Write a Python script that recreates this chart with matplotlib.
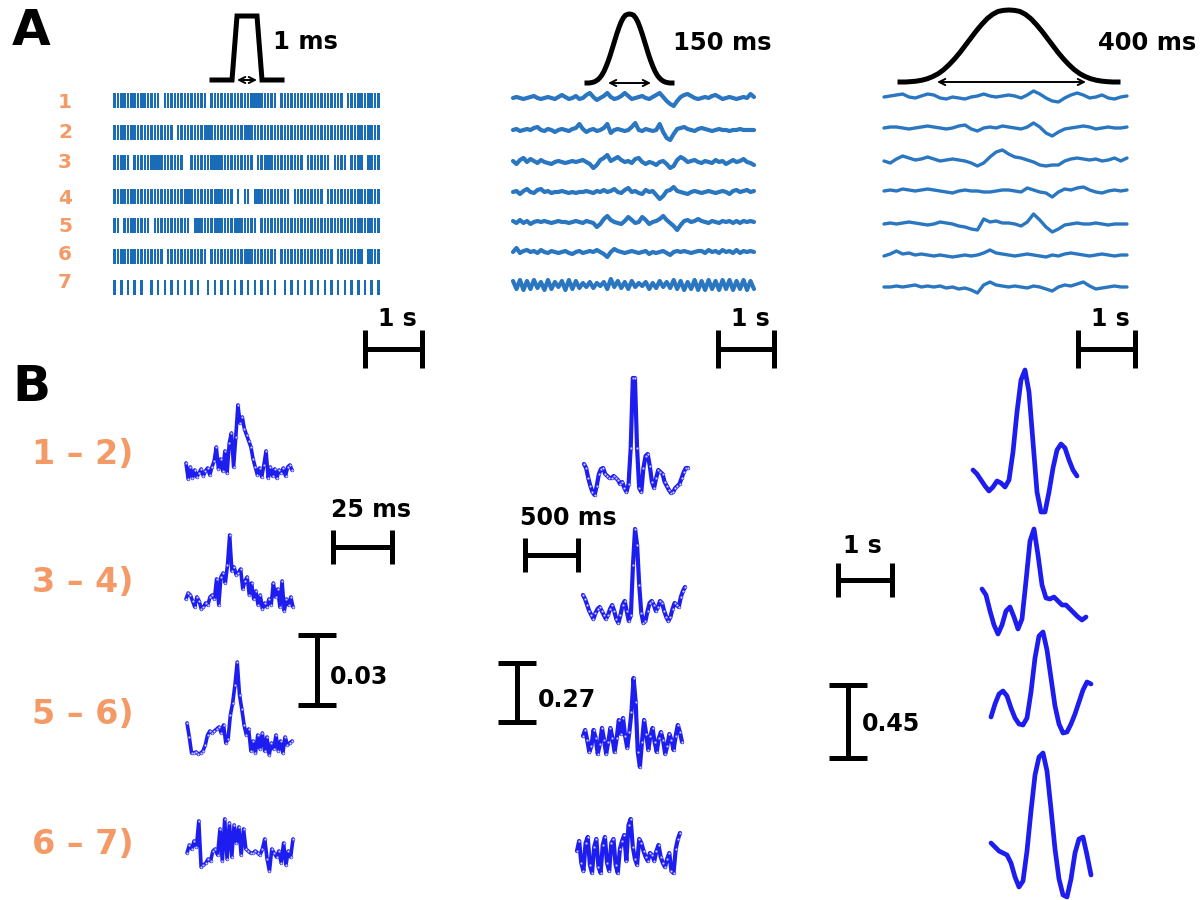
import numpy as np
import matplotlib.pyplot as plt

plt.rcParams['font.family'] = ['DejaVu Sans']

# ---------------- data ----------------
# A, left: spike trains, one char per time bin (1 = spike, 2 = merged burst, 0 = none)
spikes_1 = "1111111112" "1111011111" "1112111101" "1111121111" "1122211110" "1111111112" "1111111110" "1111111111"
spikes_2 = "1111111111" "1211111101" "1111111121" "1111111111" "2111111211" "1111112111" "1111111111" "1111111111"
spikes_3 = "1111101111" "1122111111" "1001111112" "2211111111" "1101112111" "1111111011" "1111101111" "0111101111"
spikes_4 = "1111111121" "1111111111" "1121111111" "1211110101" "1012111111" "1110111111" "1110111111" "1112111111"
spikes_5 = "1101111111" "1011111111" "1110121111" "1211111221" "1110111111" "1111111112" "1111111111" "1111111111"
spikes_6 = "1111111111" "1111101111" "1111111101" "1111111111" "2111111110" "1111111111" "1111110111" "1111101111"
spikes_7 = "1010101010" "0101010101" "0101010010" "1010101010" "1010101010" "0101010101" "0101010101" "0101010101"
train_labels = ["1", "2", "3", "4", "5", "6", "7"]

# kernel shapes
box_t = [-1.75, -0.75, -0.5, 0.5, 0.75, 1.75]   # ms
box_v = [0, 0, 1, 1, 0, 0]
bell_v = [0, 0, 0.005, 0.012, 0.025, 0.045, 0.075, 0.115, 0.17, 0.24, 0.32, 0.41, 0.51, 0.61, 0.71,
          0.8, 0.88, 0.94, 0.98, 0.995, 1.0, 0.995, 0.98, 0.94, 0.88, 0.8, 0.71, 0.61, 0.51, 0.41,
          0.32, 0.24, 0.17, 0.115, 0.075, 0.045, 0.025, 0.012, 0.005, 0, 0]
kernel_labels = ["1 ms", "150 ms", "400 ms"]

# A, middle: signals filtered with 150 ms kernel
mid_1 = [0,1,0,-1,0,1,2,0,-1,0,1,0,-1,1,3,1,-1,0,2,-1,0,3,5,1,-2,0,2,5,1,-1,0,2,5,2,-1,0,1,2,0,-1,1,3,5,1,-3,-6,-8,-3,1,3,4,2,0,-1,0,1,0,2,3,1,-1,0,1,0,-1,0,1,0,4,1]
mid_2 = [0,1,-1,0,1,0,2,3,0,-1,1,0,-2,0,1,0,-1,1,2,6,1,-2,0,1,-1,0,2,6,-3,0,1,0,-1,0,3,7,0,-1,1,0,-1,0,6,-2,-8,-10,-4,1,2,3,1,0,-1,1,2,1,0,-1,0,1,0,0,-1,0,0,1,0,0,0,0]
mid_3 = [1,-2,2,4,0,3,1,-1,2,0,-1,-2,0,1,0,-1,0,1,0,1,2,0,-2,-6,-3,2,4,7,1,3,5,2,0,1,-1,3,4,0,-2,0,-1,-3,0,1,-2,-6,-4,2,5,3,0,1,2,0,-1,1,0,-1,2,0,1,-2,0,2,0,1,3,0,-1,-3]
mid_4 = [0,1,-2,1,3,0,-1,2,3,0,1,-1,0,0,1,0,-1,0,-1,0,0,1,0,-1,1,0,2,0,1,3,0,-1,2,4,0,1,-1,-2,2,0,1,-3,-7,-4,1,2,5,1,0,-1,-2,0,1,0,-1,0,1,0,-1,0,1,0,-2,1,2,0,1,2,0,1]
mid_5 = [1,-1,2,-1,1,-2,0,1,0,1,0,-1,0,1,0,0,-1,0,1,0,-1,1,0,-1,-5,-2,3,6,2,0,-1,-2,1,5,2,-1,0,5,2,-2,0,1,3,6,2,-1,-4,-8,-3,1,2,0,1,3,1,0,-1,1,0,-1,1,0,1,-1,1,-1,1,0,1,0]
mid_6 = [0,4,-1,1,2,0,1,-1,2,0,-1,1,0,-1,0,1,-1,-2,0,1,-1,0,1,0,2,0,-2,-5,0,3,1,0,-1,0,1,0,-1,0,1,-2,0,-1,0,1,-1,-3,0,1,0,1,0,-1,0,1,1,-1,2,0,1,-1,2,0,1,-1,2,-1,1,0,1,0]
mid_7 = [4,-4,5,-5,4,-4,5,-3,3,-5,5,-4,3,-2,4,-5,5,-4,4,-3,2,-2,3,-3,2,-1,3,-4,6,-2,4,-3,3,-4,4,-2,2,-1,3,-4,2,-3,4,-2,3,-3,5,-4,4,-5,3,-4,5,-5,4,-5,5,-4,4,-5,5,-4,5,-5,4,-4,5,-5,4,-4]

# A, right: signals filtered with 400 ms kernel
slow_1 = [0,1,2,3,0,-1,1,3,2,-1,-2,0,-1,-2,0,1,3,1,0,1,2,1,-1,2,6,3,-1,-4,-5,-1,2,4,2,-1,0,2,-1,-2,0,1]
slow_2 = [0,1,1,0,-1,0,1,2,1,0,-1,0,2,3,-1,-3,0,1,0,2,1,0,-1,1,5,1,-5,-8,-4,-1,0,1,2,1,-1,0,1,0,0,1]
slow_3 = [-1,-3,1,4,2,0,1,3,1,-1,0,1,0,-1,-3,-6,-3,3,8,10,6,3,2,0,-2,-5,-6,-5,-5,-1,1,2,1,0,1,-1,0,2,-1,2]
slow_4 = [0,1,0,2,1,0,1,2,1,0,-1,-2,0,1,0,0,-1,-1,0,1,1,0,-1,3,1,-1,-2,-6,-1,2,1,3,4,1,-1,-2,0,1,0,1]
slow_5 = [0,1,0,1,2,1,0,-1,0,2,1,0,-2,-3,-5,-6,5,2,3,1,1,0,-2,2,10,4,-3,-8,-5,-1,0,1,0,0,1,0,-1,0,0,0]
slow_6 = [-1,1,4,1,2,0,1,0,-1,0,-1,-2,-1,0,-1,0,2,5,2,1,0,-1,0,1,0,-1,-2,0,-1,1,2,1,0,-1,0,1,0,-1,0,0]
slow_7 = [0,0,1,0,1,2,0,1,0,1,-1,0,-2,-1,-3,-6,2,5,2,1,0,1,0,-1,1,0,-2,-4,0,2,1,3,5,1,-2,-1,0,1,0,0]

# B: cross-correlations between neighbouring trains
pair_labels = ["1 \u2013 2)", "3 \u2013 4)", "5 \u2013 6)", "6 \u2013 7)"]
xc_spk_12 = [10,-6,6,-5,3,-4,0,4,-3,2,5,-2,6,12,26,4,14,2,22,0,30,40,6,36,68,50,56,44,38,32,26,14,6,-2,5,-4,8,22,-5,6,-3,4,-5,3,0,5,-3,6,8,3]
xc_spk_34 = [4,10,8,2,-4,6,2,-6,-4,0,-2,6,8,4,24,-2,26,30,20,38,68,32,36,28,30,34,14,22,26,8,20,4,12,-2,8,-6,0,-4,4,-2,20,6,14,-4,22,-8,4,-2,6,-4]
xc_spk_56 = [22,8,-8,-8,-7,-9,-8,-6,0,10,14,12,14,16,18,12,20,2,6,30,42,60,83,50,36,20,10,16,-6,4,-8,10,-4,12,-6,8,-10,2,-4,10,-6,4,-8,8,0,2,4]
xc_spk_67 = [0,8,4,12,6,32,-14,-12,-10,-6,-8,2,4,-2,24,-8,34,-6,30,-4,28,10,26,-2,24,4,2,0,0,2,0,-2,4,14,-6,-18,4,0,-4,2,-10,10,-12,2,-4,14]

xc_mid_12 = [14,10,0,-8,-14,-17,-8,4,9,10,4,2,0,0,2,0,-2,-6,-4,-10,-14,-6,30,100,100,30,-10,-14,10,22,24,12,-4,-10,0,8,6,4,-4,-8,-12,-15,-14,-10,-8,-6,0,6,10,10]
xc_mid_34 = [10,6,0,-6,-10,-14,-8,-4,-2,-6,-10,-14,-10,-4,0,-6,-14,-18,-10,0,4,-6,-16,-10,40,76,60,20,-8,-18,-16,-6,2,4,0,-6,-2,4,2,-6,-12,-16,-12,-4,2,0,-2,8,14,18]
xc_mid_56 = [6,12,2,-10,-4,12,4,-12,-2,14,2,-12,0,14,4,-10,4,22,8,24,6,-6,10,30,64,40,-10,-25,0,22,8,-8,6,14,0,-10,4,10,2,-12,-4,8,2,-8,6,17,10,0]
xc_mid_67 = [4,14,-8,-16,12,18,-10,-18,8,16,-12,-18,10,18,-8,-16,12,16,-10,-18,6,14,20,-6,30,36,8,-4,-10,16,12,4,-2,-6,2,0,-6,4,10,-2,-8,-12,-4,2,-16,-18,6,16,22]

xc_slow_12 = [12,8,2,-4,-9,-5,1,-1,-5,2,30,70,102,112,90,40,-10,-30,-30,-10,14,32,38,34,22,12,6]
xc_slow_34 = [16,10,-6,-20,-29,-20,-6,-2,-12,-24,-14,24,64,76,50,20,7,6,8,4,0,0,-4,-8,-12,-15,-12]
xc_slow_56 = [-5,8,18,21,16,4,-6,-12,-13,-6,20,54,76,80,62,34,6,-12,-21,-20,-12,-2,10,22,30,28]
xc_slow_67 = [2,-2,-6,-8,-10,-18,-32,-42,-36,-6,34,70,88,92,74,36,-4,-34,-50,-52,-34,-8,6,8,-10,-30]

scale_labels_a = ["1 s", "1 s", "1 s"]
scale_labels_b_time = ["25 ms", "500 ms", "1 s"]
scale_labels_b_amp = ["0.03", "0.27", "0.45"]

# ---------------- drawing ----------------
ORANGE = "#f49a66"
SPIKE = "#1b6cb6"
TRACE = "#2a76c0"
XC = "#1d1df0"

fig = plt.figure(figsize=(12, 9), dpi=100)
ax = fig.add_axes([0, 0, 1, 1])
ax.set_xlim(0, 1200)
ax.set_ylim(900, 0)
ax.axis("off")


def trace(vals, x0, x1, base, color, lw, marker=False):
    x = np.linspace(x0, x1, len(vals))
    y = base - np.asarray(vals, dtype=float)
    ax.plot(x, y, color=color, lw=lw, solid_joinstyle="round", solid_capstyle="round", zorder=2)
    if marker:
        ax.plot(x, y, "o", ms=2.0, mfc="white", mec=color, mew=0.5, alpha=0.8, zorder=3)


def hbar(x0, x1, y, half):
    kw = dict(color="black", lw=3.6, solid_capstyle="butt")
    ax.plot([x0, x1], [y, y], **kw)
    ax.plot([x0, x0], [y - half, y + half], **kw)
    ax.plot([x1, x1], [y - half, y + half], **kw)


def vbar(x, y0, y1, half):
    kw = dict(color="black", lw=3.6, solid_capstyle="butt")
    ax.plot([x, x], [y0, y1], **kw)
    ax.plot([x - half, x + half], [y0, y0], **kw)
    ax.plot([x - half, x + half], [y1, y1], **kw)


def darrow(x0, x1, y):
    ax.annotate("", xy=(x1, y), xytext=(x0, y),
                arrowprops=dict(arrowstyle="<->", lw=1.4, color="black",
                                shrinkA=0, shrinkB=0, mutation_scale=11))


ax.text(12, 31, "A", fontsize=36, fontweight="bold", va="center", ha="left")
ax.text(12, 387, "B", fontsize=36, fontweight="bold", va="center", ha="left")

# spike trains
trains = [spikes_1, spikes_2, spikes_3, spikes_4, spikes_5, spikes_6, spikes_7]
train_y = [100, 132, 162, 196, 225, 256, 287]
label_y = [102, 133, 162, 198, 227, 255, 282]
for s, yc, ly, lab in zip(trains, train_y, label_y, train_labels):
    n = len(s)
    step = 267.0 / n
    for i, c in enumerate(s):
        if c == "0":
            continue
        w = step * 1.02 if c == "2" else step * 0.72
        ax.bar(113 + (i + 0.5) * step, 15, width=w, bottom=yc - 7.5, color=SPIKE, linewidth=0)
    ax.text(65, ly, lab, color=ORANGE, fontsize=14.5, fontweight="bold", ha="center", va="center")

# kernels
kx = [247 + 20 * t for t in box_t]
ky = [80 - 64 * v for v in box_v]
ax.plot(kx, ky, color="black", lw=3.6, solid_joinstyle="miter")
darrow(237, 257, 80)
ax.text(273, 42, kernel_labels[0], fontsize=17.5, fontweight="bold", va="center")

bx = np.linspace(587, 672, len(bell_v))
ax.plot(bx, 83 - 69 * np.asarray(bell_v), color="black", lw=3.6)
darrow(608, 651, 83)
ax.text(673, 43, kernel_labels[1], fontsize=17.5, fontweight="bold", va="center")

bx = np.linspace(900, 1118, len(bell_v))
ax.plot(bx, 82 - 72 * np.asarray(bell_v), color="black", lw=3.6)
darrow(937, 1086, 82)
ax.text(1098, 43, kernel_labels[2], fontsize=17.5, fontweight="bold", va="center")

# filtered signals
mids = [mid_1, mid_2, mid_3, mid_4, mid_5, mid_6, mid_7]
for v, yc in zip(mids, [98, 130, 162, 192, 222, 252, 285]):
    trace(v, 513, 754, yc, TRACE, 3.0)
slows = [slow_1, slow_2, slow_3, slow_4, slow_5, slow_6, slow_7]
for v, yc in zip(slows, [97, 128, 160, 191, 224, 255, 287]):
    trace(v, 884, 1127, yc, TRACE, 2.4)

# scale bars, panel A
for (x0, x1), lab in zip([(365, 422), (718, 774), (1078, 1135)], scale_labels_a):
    hbar(x0, x1, 349, 19)
    ax.text((x0 + x1) / 2 + 4, 319, lab, fontsize=17, fontweight="bold", ha="center", va="center")

# panel B
for lab, yc in zip(pair_labels, [455, 583, 715, 845]):
    ax.text(32, yc, lab, color=ORANGE, fontsize=24, fontweight="bold", va="center", ha="left")

spk = [xc_spk_12, xc_spk_34, xc_spk_56, xc_spk_67]
spk_pos = [(186, 292, 473), (186, 293, 603), (187, 292, 745), (187, 293, 853)]
for v, (x0, x1, b) in zip(spk, spk_pos):
    trace(v, x0, x1, b, XC, 2.6, marker=True)

mid = [xc_mid_12, xc_mid_34, xc_mid_56, xc_mid_67]
mid_pos = [(584, 688, 478), (583, 685, 605), (583, 682, 742), (577, 680, 855)]
for v, (x0, x1, b) in zip(mid, mid_pos):
    trace(v, x0, x1, b, XC, 3.0, marker=True)

slow = [xc_slow_12, xc_slow_34, xc_slow_56, xc_slow_67]
slow_pos = [(973, 1077, 482), (982, 1086, 605), (991, 1091, 712), (991, 1091, 845)]
for v, (x0, x1, b) in zip(slow, slow_pos):
    trace(v, x0, x1, b, XC, 3.4)

# scale bars, panel B
hbar(333, 392, 547, 17)
ax.text(371, 510, scale_labels_b_time[0], fontsize=17, fontweight="bold", ha="center", va="center")
vbar(317, 635, 705, 19)
ax.text(330, 677, scale_labels_b_amp[0], fontsize=17, fontweight="bold", va="center")

hbar(525, 578, 555, 17)
ax.text(568, 518, scale_labels_b_time[1], fontsize=17, fontweight="bold", ha="center", va="center")
vbar(517, 663, 722, 19)
ax.text(538, 700, scale_labels_b_amp[1], fontsize=17, fontweight="bold", va="center")

hbar(838, 892, 580, 17)
ax.text(862, 546, scale_labels_b_time[2], fontsize=17, fontweight="bold", ha="center", va="center")
vbar(848, 685, 758, 19)
ax.text(862, 724, scale_labels_b_amp[2], fontsize=17, fontweight="bold", va="center")

fig.savefig("out.png", dpi=100)
